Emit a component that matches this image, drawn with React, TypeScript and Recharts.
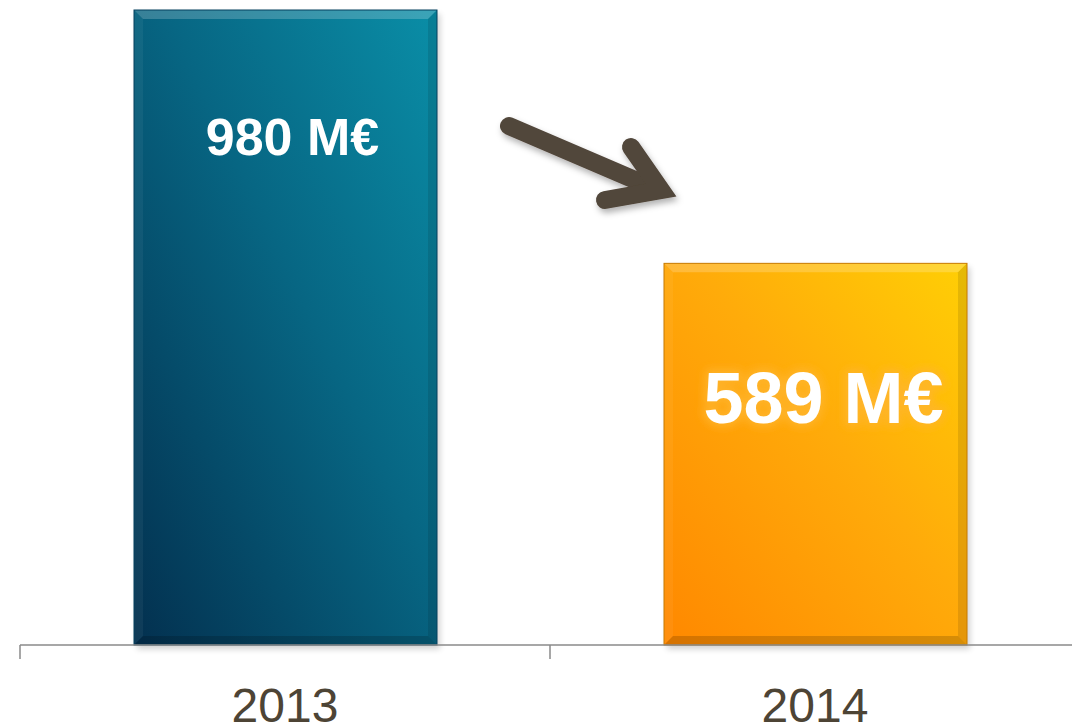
import React from "react";
import { BarChart, Bar, XAxis, YAxis, LabelList, Customized } from "recharts";

const years = ["2013", "2014"];
const values = [980, 589];
const valueLabels = ["980 M€", "589 M€"];

const data = years.map((year, i) => ({ year, value: values[i], label: valueLabels[i] }));

const W = 1090;
const H = 728;
const M = { top: 10, right: 10, left: 20, bottom: 0 };
const BAND = (W - M.left - M.right) / years.length;
const AXIS_Y = 645;

const gradIds = ["gBlue", "gOrange"];
const edgeColors = ["#04405e", "#c77a00"];

function BevelBar(props: any) {
  const { x, y, width, height, index } = props;
  if (!height || height <= 0) return null;
  const b = 9;
  return (
    <g>
      <rect x={x + 3} y={y + 4} width={width} height={height} fill="#000" opacity={0.18} filter="url(#barShadow)" />
      <rect x={x} y={y} width={width} height={height} fill={`url(#${gradIds[index]})`} />
      <polygon points={`${x},${y} ${x + width},${y} ${x + width - b},${y + b} ${x + b},${y + b}`} fill="#fff" opacity={0.2} />
      <polygon points={`${x},${y} ${x + b},${y + b} ${x + b},${y + height - b} ${x},${y + height}`} fill="#fff" opacity={0.05} />
      <polygon points={`${x + width},${y} ${x + width - b},${y + b} ${x + width - b},${y + height - b} ${x + width},${y + height}`} fill="#000" opacity={0.1} />
      <polygon points={`${x},${y + height} ${x + b},${y + height - b} ${x + width - b},${y + height - b} ${x + width},${y + height}`} fill="#000" opacity={0.16} />
      <rect x={x} y={y} width={width} height={height} fill="none" stroke={edgeColors[index]} strokeWidth={1} />
    </g>
  );
}

function ValueLabel(props: any) {
  const { x, y, width, index, value } = props;
  const big = index === 1;
  const cx = x + width / 2 + (big ? 8 : 7);
  const by = big ? y + 160 : y + 145;
  const size = big ? 72 : 52;
  return (
    <g>
      {big && (
        <text x={cx} y={by} textAnchor="middle" fontFamily="Liberation Sans, Arial, sans-serif" fontWeight="bold" fontSize={size}
          fill="#ffb52e" stroke="#ffb52e" strokeWidth={7} strokeLinejoin="round" opacity={0.85} filter="url(#glow)">
          {value}
        </text>
      )}
      <text x={cx} y={by} textAnchor="middle" fontFamily="Liberation Sans, Arial, sans-serif" fontWeight="bold" fontSize={size} fill="#ffffff">
        {value}
      </text>
    </g>
  );
}

function YearTick(props: any) {
  const { x, payload, index } = props;
  const left = x - BAND / 2;
  return (
    <g>
      <line x1={left} y1={AXIS_Y} x2={left} y2={AXIS_Y + 14} stroke="#8a8a8a" strokeWidth={1.5} />
      {index === years.length - 1 && (
        <line x1={x + BAND / 2} y1={AXIS_Y} x2={x + BAND / 2} y2={AXIS_Y + 14} stroke="#8a8a8a" strokeWidth={1.5} />
      )}
      <text x={x} y={AXIS_Y + 77} textAnchor="middle" fontFamily="Liberation Sans, Arial, sans-serif" fontSize={48} fill="#4d4435">
        {payload.value}
      </text>
    </g>
  );
}

function TrendArrow() {
  return (
    <g filter="url(#arrowShadow)">
      <line x1={509} y1={126} x2={656} y2={189} stroke="#51463a" strokeWidth={18} strokeLinecap="round" />
      <path d="M631 147 L661 190 L605 200" fill="none" stroke="#51463a" strokeWidth={18} strokeLinecap="round" strokeLinejoin="miter" />
    </g>
  );
}

export default function App() {
  return (
    <div style={{ position: "absolute", left: 0, top: 0, width: 1072, height: 728, overflow: "hidden", background: "#fff" }}>
      <BarChart width={W} height={H} data={data} margin={M} barSize={303}>
        <defs>
          <linearGradient id="gBlue" x1="0" y1="1" x2="1" y2="0">
            <stop offset="0%" stopColor="#03304f" />
            <stop offset="55%" stopColor="#076683" />
            <stop offset="100%" stopColor="#0a8ea7" />
          </linearGradient>
          <linearGradient id="gOrange" x1="0" y1="1" x2="1" y2="0">
            <stop offset="0%" stopColor="#ff8800" />
            <stop offset="55%" stopColor="#ffab0a" />
            <stop offset="100%" stopColor="#ffcf05" />
          </linearGradient>
          <filter id="barShadow" x="-10%" y="-10%" width="120%" height="120%">
            <feGaussianBlur stdDeviation="3" />
          </filter>
          <filter id="glow" x="-20%" y="-40%" width="140%" height="180%">
            <feGaussianBlur stdDeviation="4" />
          </filter>
          <filter id="arrowShadow" x="-20%" y="-30%" width="140%" height="160%">
            <feDropShadow dx="2" dy="4" stdDeviation="3" floodColor="#000" floodOpacity="0.3" />
          </filter>
        </defs>
        <XAxis dataKey="year" height={83} interval={0} tickLine={false} axisLine={{ stroke: "#8a8a8a", strokeWidth: 1.5 }} tick={<YearTick />} />
        <YAxis hide domain={[0, 980]} />
        <Bar dataKey="value" shape={<BevelBar />} isAnimationActive={false}>
          <LabelList dataKey="label" content={<ValueLabel />} />
        </Bar>
        <Customized component={<TrendArrow />} />
      </BarChart>
    </div>
  );
}
